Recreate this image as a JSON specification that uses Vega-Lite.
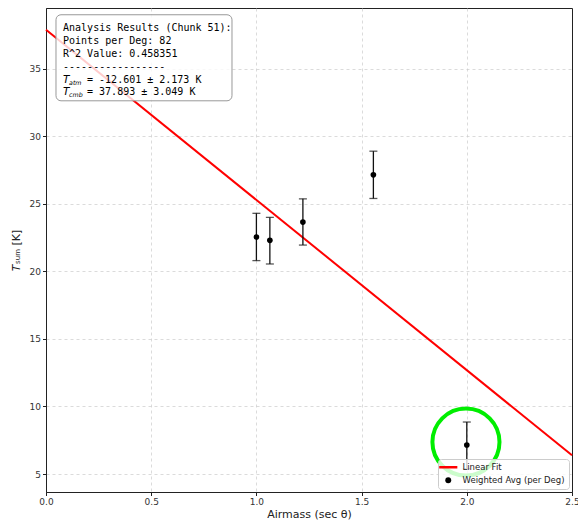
{
  "$schema": "https://vega.github.io/schema/vega-lite/v6.json",
  "autosize": "none",
  "width": 526,
  "height": 484,
  "padding": {"left": 46, "top": 8, "right": 6, "bottom": 30},
  "background": "white",
  "config": {
    "view": {"stroke": "#222", "strokeWidth": 1},
    "axis": {
      "labelFont": "DejaVu Sans", "labelFontSize": 9, "labelColor": "#333", "labelFlush": false,
      "titleFont": "DejaVu Sans", "titleFontSize": 11, "titleFontWeight": "normal", "titleColor": "#222",
      "gridColor": "#cccccc", "gridDash": [3, 3], "gridWidth": 0.7,
      "domainColor": "#222", "tickColor": "#222", "tickSize": 3.5, "labelPadding": 2
    },
    "legend": {"labelFont": "DejaVu Sans", "labelFontSize": 8.5, "labelColor": "#222"}
  },
  "datasets": {
    "fit": [{"airmass": 0.0, "tsum": 37.893}, {"airmass": 2.5, "tsum": 6.39}],
    "pts": [
      {"airmass": 1.0, "tsum": 22.55, "lo": 20.8, "hi": 24.3},
      {"airmass": 1.064, "tsum": 22.3, "lo": 20.55, "hi": 24.0},
      {"airmass": 1.221, "tsum": 23.65, "lo": 21.95, "hi": 25.37},
      {"airmass": 1.556, "tsum": 27.15, "lo": 25.4, "hi": 28.9},
      {"airmass": 2.0, "tsum": 7.15, "lo": 5.4, "hi": 8.85}
    ],
    "circle": [{"airmass": 1.996, "tsum": 7.37}],
    "box": [{"x1": 0.0475, "x2": 0.884, "y1": 39.0, "y2": 32.63}],
    "lines": [
      {"txt": "Analysis Results (Chunk 51):", "x": 0.081, "y": 38.0},
      {"txt": "Points per Deg: 82", "x": 0.081, "y": 37.05},
      {"txt": "R^2 Value: 0.458351", "x": 0.081, "y": 36.1},
      {"txt": "-----------------", "x": 0.081, "y": 35.15}
    ],
    "tlines": [
      {"sym": "T", "sub": "atm", "rest": "= -12.601 ± 2.173 K", "x": 0.081, "y": 34.2},
      {"sym": "T", "sub": "cmb", "rest": "= 37.893 ± 3.049 K", "x": 0.081, "y": 33.25}
    ]
  },
  "layer": [
    {
      "data": {"name": "fit"},
      "mark": {"type": "line", "strokeWidth": 2},
      "encoding": {
        "x": {"field": "airmass", "type": "quantitative",
          "scale": {"domain": [0, 2.5], "nice": false},
          "axis": {"title": "Airmass (sec θ)", "values": [0, 0.5, 1, 1.5, 2, 2.5], "format": ".1f", "titlePadding": 2,
            "gridOpacity": {"condition": {"test": "datum.value <= 0 || datum.value >= 2.5", "value": 0}, "value": 1}}},
        "y": {"field": "tsum", "type": "quantitative",
          "scale": {"domain": [3.67, 39.5], "nice": false, "zero": false},
          "axis": {"title": "𝑇ₛᵤₘ [K]", "values": [5, 10, 15, 20, 25, 30, 35], "titlePadding": 8}},
        "color": {"datum": "Linear Fit", "type": "nominal",
          "scale": {"domain": ["Linear Fit", "Weighted Avg (per Deg)"], "range": ["#ff0000", "#000000"]},
          "legend": {
            "title": null, "orient": "bottom-right", "offset": 3,
            "fillColor": "rgba(255,255,255,0.8)", "strokeColor": "#cccccc", "cornerRadius": 3,
            "padding": 4, "rowPadding": 3, "symbolOffset": 2, "symbolSize": 300, "labelOffset": 10,
            "encode": {"symbols": {"update": {
              "shape": {"signal": "datum.value === 'Linear Fit' ? 'stroke' : 'circle'"},
              "size": {"signal": "datum.value === 'Linear Fit' ? 330 : 35"},
              "strokeWidth": {"signal": "datum.value === 'Linear Fit' ? 2.5 : 0"},
              "stroke": {"signal": "datum.value === 'Linear Fit' ? '#ff0000' : '#000000'"},
              "fill": {"value": "#000000"},
              "opacity": {"value": 1}
            }}}
          }}
      }
    },
    {
      "data": {"name": "pts"},
      "mark": {"type": "rule", "strokeWidth": 1.3, "color": "#111"},
      "encoding": {
        "x": {"field": "airmass", "type": "quantitative"},
        "y": {"field": "lo", "type": "quantitative"},
        "y2": {"field": "hi"}
      }
    },
    {
      "data": {"name": "pts"},
      "mark": {"type": "tick", "orient": "horizontal", "size": 8, "thickness": 1.3, "color": "#111"},
      "encoding": {
        "x": {"field": "airmass", "type": "quantitative"},
        "y": {"field": "lo", "type": "quantitative"}
      }
    },
    {
      "data": {"name": "pts"},
      "mark": {"type": "tick", "orient": "horizontal", "size": 8, "thickness": 1.3, "color": "#111"},
      "encoding": {
        "x": {"field": "airmass", "type": "quantitative"},
        "y": {"field": "hi", "type": "quantitative"}
      }
    },
    {
      "data": {"name": "pts"},
      "mark": {"type": "point", "filled": true, "size": 32, "opacity": 1},
      "encoding": {
        "x": {"field": "airmass", "type": "quantitative"},
        "y": {"field": "tsum", "type": "quantitative"},
        "color": {"datum": "Weighted Avg (per Deg)", "type": "nominal"}
      }
    },
    {
      "data": {"name": "circle"},
      "mark": {"type": "point", "shape": "circle", "filled": false, "size": 4500, "stroke": "#00ee00", "strokeWidth": 4, "opacity": 1},
      "encoding": {
        "x": {"field": "airmass", "type": "quantitative"},
        "y": {"field": "tsum", "type": "quantitative"}
      }
    },
    {
      "data": {"name": "box"},
      "mark": {"type": "rect", "fill": "white", "fillOpacity": 0.8, "stroke": "#999999", "strokeWidth": 1, "cornerRadius": 5},
      "encoding": {
        "x": {"field": "x1", "type": "quantitative"},
        "x2": {"field": "x2"},
        "y": {"field": "y1", "type": "quantitative"},
        "y2": {"field": "y2"}
      }
    },
    {
      "data": {"name": "lines"},
      "mark": {"type": "text", "font": "DejaVu Sans Mono", "fontSize": 10, "align": "left", "baseline": "middle", "color": "#000"},
      "encoding": {
        "x": {"field": "x", "type": "quantitative"},
        "y": {"field": "y", "type": "quantitative"},
        "text": {"field": "txt"}
      }
    },
    {
      "data": {"name": "tlines"},
      "mark": {"type": "text", "font": "DejaVu Sans", "fontStyle": "italic", "fontSize": 10.5, "align": "left", "baseline": "middle", "color": "#000"},
      "encoding": {
        "x": {"field": "x", "type": "quantitative"},
        "y": {"field": "y", "type": "quantitative"},
        "text": {"field": "sym"}
      }
    },
    {
      "data": {"name": "tlines"},
      "mark": {"type": "text", "font": "DejaVu Sans", "fontStyle": "italic", "fontSize": 6.3, "align": "left", "baseline": "middle", "dx": 6, "dy": 3, "color": "#000"},
      "encoding": {
        "x": {"field": "x", "type": "quantitative"},
        "y": {"field": "y", "type": "quantitative"},
        "text": {"field": "sub"}
      }
    },
    {
      "data": {"name": "tlines"},
      "mark": {"type": "text", "font": "DejaVu Sans Mono", "fontSize": 10, "align": "left", "baseline": "middle", "dx": 24, "color": "#000"},
      "encoding": {
        "x": {"field": "x", "type": "quantitative"},
        "y": {"field": "y", "type": "quantitative"},
        "text": {"field": "rest"}
      }
    }
  ]
}
